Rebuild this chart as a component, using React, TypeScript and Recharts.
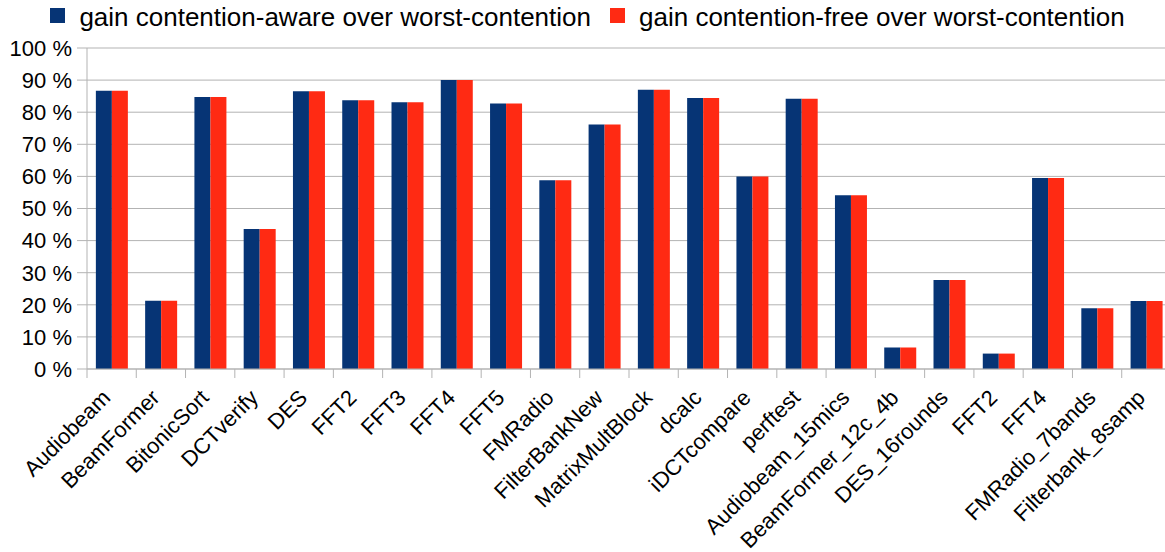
import { BarChart, Bar, XAxis, YAxis, CartesianGrid } from 'recharts';

const categories = [
  'Audiobeam', 'BeamFormer', 'BitonicSort', 'DCTverify', 'DES', 'FFT2', 'FFT3', 'FFT4', 'FFT5',
  'FMRadio', 'FilterBankNew', 'MatrixMultBlock', 'dcalc', 'iDCTcompare', 'perftest',
  'Audiobeam_15mics', 'BeamFormer_12c_4b', 'DES_16rounds', 'FFT2', 'FFT4', 'FMRadio_7bands',
  'Filterbank_8samp',
];

// gain contention-aware over worst-contention (%)
const awareGain = [
  86.7, 21.3, 84.7, 43.6, 86.5, 83.7, 83.1, 90.0, 82.7, 58.8, 76.2, 87.0, 84.4, 60.0, 84.2,
  54.1, 6.7, 27.7, 4.8, 59.5, 18.9, 21.2,
];

// gain contention-free over worst-contention (%)
const freeGain = [
  86.7, 21.3, 84.7, 43.6, 86.5, 83.7, 83.1, 90.0, 82.7, 58.8, 76.2, 87.0, 84.4, 60.0, 84.2,
  54.1, 6.7, 27.7, 4.8, 59.5, 18.9, 21.2,
];

const yTicks = [0, 10, 20, 30, 40, 50, 60, 70, 80, 90, 100];

const seriesNames = ['gain contention-aware over worst-contention', 'gain contention-free over worst-contention'];
const seriesColors = ['#063475', '#ff2a13'];

const FONT = '"Liberation Sans", Arial, sans-serif';
const GRID = '#b3b3b3';

// the chart is a bit wider than the window: the reference is cut off on the right
const CHART_W = 1175;
const CHART_H = 552;
const MARGIN = { top: 48, right: 4, left: 0, bottom: 0 };
const Y_AXIS_W = 87;
const X_AXIS_H = 183;
const PLOT_W = CHART_W - MARGIN.left - MARGIN.right - Y_AXIS_W;

const data = categories.map((name, i) => ({ name, aware: awareGain[i], free: freeGain[i] }));

function CategoryTick(props: any) {
  const { x, y, payload, index } = props;
  const band = PLOT_W / categories.length;
  const ty = y + 30;
  return (
    <g>
      <line x1={x - band / 2} x2={x - band / 2} y1={y} y2={y + 9} stroke={GRID} />
      {index === categories.length - 1 && (
        <line x1={x + band / 2} x2={x + band / 2} y1={y} y2={y + 9} stroke={GRID} />
      )}
      <text
        x={x}
        y={ty}
        textAnchor="end"
        transform={`rotate(-45, ${x}, ${ty})`}
        fontSize={22}
        fontFamily={FONT}
        fill="#000"
      >
        {payload.value}
      </text>
    </g>
  );
}

function ChartLegend() {
  return (
    <div
      style={{
        position: 'absolute',
        top: 0,
        left: 0,
        width: CHART_W,
        display: 'flex',
        justifyContent: 'center',
        fontFamily: FONT,
        fontSize: 26,
        lineHeight: '34px',
        color: '#000',
        pointerEvents: 'none',
      }}
    >
      {seriesNames.map((name, i) => (
        <div key={name} style={{ display: 'flex', alignItems: 'flex-start', marginLeft: i > 0 ? 19 : 0 }}>
          <span
            style={{ display: 'inline-block', width: 15, height: 15, marginTop: 8, marginRight: 14, background: seriesColors[i] }}
          />
          <span style={{ whiteSpace: 'nowrap' }}>{name}</span>
        </div>
      ))}
    </div>
  );
}

export default function App() {
  return (
    <div style={{ position: 'absolute', left: 0, top: 0, width: 1165, height: 552, overflow: 'hidden', background: '#fff' }}>
      <BarChart width={CHART_W} height={CHART_H} data={data} margin={MARGIN} barGap={0} barCategoryGap="18%">
        <CartesianGrid vertical={false} stroke={GRID} />
        <XAxis
          dataKey="name"
          height={X_AXIS_H}
          interval={0}
          tickLine={false}
          tickSize={0}
          tickMargin={0}
          axisLine={{ stroke: GRID }}
          tick={<CategoryTick />}
        />
        <YAxis
          width={Y_AXIS_W}
          domain={[0, 100]}
          ticks={yTicks}
          interval={0}
          tickFormatter={(v: number) => `${v} %`}
          tickSize={10}
          tickMargin={5}
          tickLine={{ stroke: GRID }}
          axisLine={{ stroke: GRID }}
          tick={{ fontSize: 22, fontFamily: FONT, fill: '#000' }}
        />
        <Bar dataKey="aware" name={seriesNames[0]} fill={seriesColors[0]} isAnimationActive={false} />
        <Bar dataKey="free" name={seriesNames[1]} fill={seriesColors[1]} isAnimationActive={false} />
      </BarChart>
      <ChartLegend />
    </div>
  );
}
